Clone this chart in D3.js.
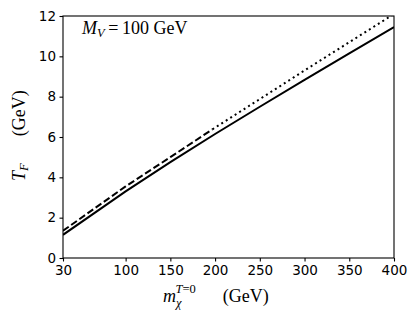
<!DOCTYPE html>
<html>
<head>
<meta charset="utf-8">
<script src="https://cdn.jsdelivr.net/npm/d3@7"></script>
<style>
  body { margin: 0; background: #fff; }
  svg { display: block; }
  .tick text { font-family: "DejaVu Sans", sans-serif; font-size: 13.5px; fill: #000; }
  .math { font-family: "Liberation Serif", "DejaVu Serif", serif; fill: #000; }
</style>
</head>
<body>
<div id="chart"></div>
<script>
// curve values (GeV)
const solid_x = [30, 100, 150, 200, 250, 300, 350, 400];
const solid_y = [1.15, 3.3, 4.75, 6.15, 7.5, 8.83, 10.15, 11.45];
const dashed_x = [30, 100, 150, 197];
const dashed_y = [1.35, 3.55, 5.0, 6.38];
const dotted_x = [197, 250, 300, 350, 400];
const dotted_y = [6.38, 7.88, 9.3, 10.7, 12.1];
const x_ticks = [30, 100, 150, 200, 250, 300, 350, 400];
const y_ticks = [0, 2, 4, 6, 8, 10, 12];

const width = 419, height = 323;
const margin = {top: 16, right: 25, bottom: 65, left: 63};

let svg = d3.select("#chart").append("svg")
    .attr("width", width)
    .attr("height", height);

let x = d3.scaleLinear().domain([30, 400]).range([margin.left, width - margin.right]);
let y = d3.scaleLinear().domain([0, 12]).range([height - margin.bottom, margin.top]);

svg.append("clipPath").attr("id", "plotclip")
  .append("rect")
    .attr("x", margin.left).attr("y", margin.top)
    .attr("width", x(400) - x(30)).attr("height", y(0) - y(12));

let line = d3.line().x(d => x(d[0])).y(d => y(d[1]));

function drawCurve(xs, ys, dash) {
    svg.append("path")
        .datum(d3.zip(xs, ys))
        .attr("clip-path", "url(#plotclip)")
        .attr("d", line)
        .attr("fill", "none")
        .attr("stroke", "#000")
        .attr("stroke-width", 2)
        .attr("stroke-dasharray", dash);
}
drawCurve(solid_x, solid_y, null);
drawCurve(dashed_x, dashed_y, "7,3");
drawCurve(dotted_x, dotted_y, "2,3.3");

// frame
svg.append("rect")
    .attr("x", x(30)).attr("y", y(12))
    .attr("width", x(400) - x(30)).attr("height", y(0) - y(12))
    .attr("fill", "none").attr("stroke", "#000").attr("stroke-width", 1.1);

let xAxis = svg.append("g")
    .attr("transform", "translate(0," + y(0) + ")")
    .call(d3.axisBottom(x).tickValues(x_ticks).tickSize(3.5).tickPadding(3.5).tickFormat(d3.format("d")));
let yAxis = svg.append("g")
    .attr("transform", "translate(" + x(30) + ",0)")
    .call(d3.axisLeft(y).tickValues(y_ticks).tickSize(3.5).tickPadding(3.5).tickFormat(d3.format("d")));
[xAxis, yAxis].forEach(a => {
    a.select(".domain").remove();
    a.selectAll(".tick line").attr("stroke", "#000").attr("stroke-width", 1.1);
});

// annotation
let ann = svg.append("text").attr("class", "math")
    .attr("x", 82).attr("y", 34).attr("font-size", 18);
ann.append("tspan").attr("font-style", "italic").text("M");
ann.append("tspan").attr("font-style", "italic").attr("font-size", 12.5).attr("dy", 3).text("V");
ann.append("tspan").attr("dy", -3).text("\u2009=\u2009100 GeV");

// x label
let xl = svg.append("text").attr("class", "math")
    .attr("x", 163).attr("y", 302).attr("font-size", 18);
xl.append("tspan").attr("font-style", "italic").text("m");
xl.append("tspan").attr("font-style", "italic").attr("font-size", 12.5).attr("dy", 5).text("\u03c7");
xl.append("tspan").attr("font-style", "italic").attr("font-size", 12.5).attr("dx", -6).attr("dy", -14).text("T");
xl.append("tspan").attr("font-size", 12.5).attr("dy", 0).text("=0");
xl.append("tspan").attr("dy", 9).text("\u2003\u2002(GeV)");

// y label
let yl = svg.append("text").attr("class", "math")
    .attr("transform", "translate(25," + 181 + ") rotate(-90)")
    .attr("font-size", 18);
yl.append("tspan").attr("font-style", "italic").text("T");
yl.append("tspan").attr("font-style", "italic").attr("font-size", 12.5).attr("dy", 3).text("F");
yl.append("tspan").attr("dy", -3).text("\u2003\u2002(GeV)");
</script>
</body>
</html>
